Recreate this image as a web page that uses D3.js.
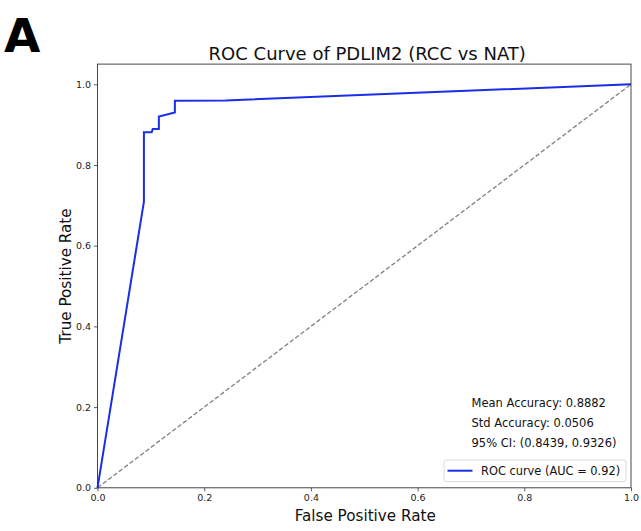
<!DOCTYPE html>
<html><head><meta charset="utf-8">
<script src="https://cdn.jsdelivr.net/npm/d3@7"></script>
<style>
body{margin:0;background:#fff;}
svg{display:block;font-family:"DejaVu Sans",sans-serif;}
</style></head>
<body>
<svg id="c" width="641" height="531"></svg>
<script>
// ROC curve points (false positive rate, true positive rate)
const fpr = [0.0, 0.087, 0.087, 0.1015, 0.1035, 0.115, 0.115, 0.145, 0.145, 0.24, 1.0];
const tpr = [0.0, 0.709, 0.881, 0.881, 0.889, 0.889, 0.92, 0.93, 0.959, 0.96, 1.0];
const chanceX = [0, 1];
const chanceY = [0, 1];
const xTicks = [0.0, 0.2, 0.4, 0.6, 0.8, 1.0];
const yTicks = [0.0, 0.2, 0.4, 0.6, 0.8, 1.0];
const titleText = "ROC Curve of PDLIM2 (RCC vs NAT)";
const panelLabel = "A";
const statsLines = ["Mean Accuracy: 0.8882", "Std Accuracy: 0.0506", "95% CI: (0.8439, 0.9326)"];
const legendLabel = "ROC curve (AUC = 0.92)";

const svg = d3.select("#c");
const L = 97.5, R = 631, T = 64.1, B = 487.8;
const x = d3.scaleLinear().domain([0, 1]).range([L, R]);
const y = d3.scaleLinear().domain([0, 1.05]).range([B, T]);

// axes
const xAxis = d3.axisBottom(x).tickValues(xTicks).tickFormat(d3.format(".1f")).tickSize(3.5).tickPadding(3);
const yAxis = d3.axisLeft(y).tickValues(yTicks).tickFormat(d3.format(".1f")).tickSize(3.5).tickPadding(3);
const gx = svg.append("g").attr("transform", `translate(0,${B})`).call(xAxis);
const gy = svg.append("g").attr("transform", `translate(${L},0)`).call(yAxis);
[gx, gy].forEach(g => {
  g.select(".domain").remove();
  g.selectAll("line").attr("stroke", "#333").attr("stroke-width", 0.8);
  g.selectAll("text").attr("fill", "#222").style("font-size", "9.5px").style("font-family", "DejaVu Sans");
});

// chance line
const line = d3.line().x(d => x(d[0])).y(d => y(d[1]));
svg.append("path").datum(chanceX.map((v, i) => [v, chanceY[i]]))
  .attr("d", line).attr("fill", "none").attr("stroke", "#808080")
  .attr("stroke-width", 1.3).attr("stroke-dasharray", "4.5,2.2");

// ROC
svg.append("path").datum(fpr.map((v, i) => [v, tpr[i]]))
  .attr("d", line).attr("fill", "none").attr("stroke", "#1a2ee6")
  .attr("stroke-width", 2).attr("stroke-linejoin", "miter");

// frame
svg.append("rect").attr("x", L).attr("y", T).attr("width", R - L).attr("height", B - T)
  .attr("fill", "none").attr("stroke", "#333").attr("stroke-width", 0.9);

// stats text
statsLines.forEach((s, i) => {
  svg.append("text").attr("x", 471.5).attr("y", 407.3 + i * 19.7)
    .style("font-size", "11.5px").attr("fill", "#111").text(s);
});

// legend
svg.append("rect").attr("x", 444).attr("y", 460).attr("width", 182).attr("height", 21.5)
  .attr("rx", 2).attr("fill", "#fff").attr("stroke", "#d6d6d6").attr("stroke-width", 0.9);
svg.append("line").attr("x1", 447.5).attr("x2", 472.5).attr("y1", 470.7).attr("y2", 470.7)
  .attr("stroke", "#1a2ee6").attr("stroke-width", 2);
svg.append("text").attr("x", 481).attr("y", 475).style("font-size", "11.4px").attr("fill", "#111").text(legendLabel);

// titles
svg.append("text").attr("x", (L + R) / 2 + 3).attr("y", 60).attr("text-anchor", "middle")
  .style("font-size", "18px").attr("fill", "#111").text(titleText);
svg.append("text").attr("x", (L + R) / 2 + 1).attr("y", 521).attr("text-anchor", "middle")
  .style("font-size", "15.2px").attr("fill", "#111").text("False Positive Rate");
svg.append("text").attr("transform", `translate(71,276) rotate(-90)`).attr("text-anchor", "middle")
  .style("font-size", "15.2px").attr("fill", "#111").text("True Positive Rate");
svg.append("text").attr("x", 4).attr("y", 52).style("font-size", "47px").style("font-weight", "bold")
  .attr("fill", "#000").text(panelLabel);
</script>
</body></html>
